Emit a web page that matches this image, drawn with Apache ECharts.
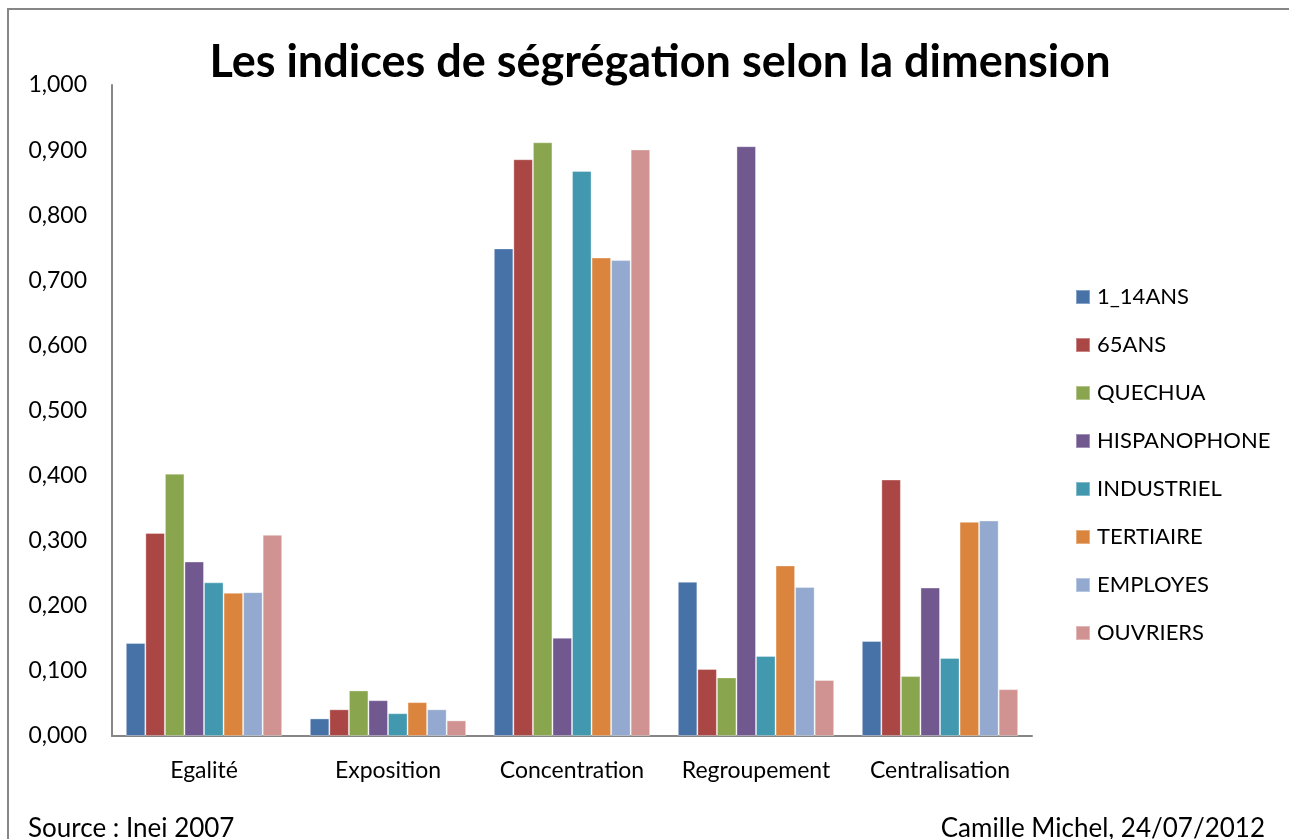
<!DOCTYPE html>
<html>
<head>
<meta charset="utf-8">
<script src="https://cdn.jsdelivr.net/npm/echarts@6/dist/echarts.min.js"></script>
<style>
  html, body { margin: 0; padding: 0; background: #fff; }
  #chart { width: 1289px; height: 839px; }
</style>
</head>
<body>
<div id="chart"></div>
<script>
// Dimensions of segregation along the x axis
const categories = ['Egalité', 'Exposition', 'Concentration', 'Regroupement', 'Centralisation'];

// One array per population group, one value per dimension
const s_1_14ANS     = [0.143, 0.027, 0.749, 0.237, 0.146];
const s_65ANS       = [0.312, 0.041, 0.886, 0.103, 0.394];
const s_QUECHUA     = [0.403, 0.070, 0.912, 0.090, 0.092];
const s_HISPANO     = [0.268, 0.055, 0.151, 0.906, 0.228];
const s_INDUSTRIEL  = [0.236, 0.035, 0.868, 0.123, 0.120];
const s_TERTIAIRE   = [0.220, 0.052, 0.735, 0.262, 0.329];
const s_EMPLOYES    = [0.221, 0.041, 0.731, 0.229, 0.331];
const s_OUVRIERS    = [0.309, 0.024, 0.901, 0.086, 0.072];

const seriesNames = ['1_14ANS', '65ANS', 'QUECHUA', 'HISPANOPHONE', 'INDUSTRIEL', 'TERTIAIRE', 'EMPLOYES', 'OUVRIERS'];
const seriesValues = [s_1_14ANS, s_65ANS, s_QUECHUA, s_HISPANO, s_INDUSTRIEL, s_TERTIAIRE, s_EMPLOYES, s_OUVRIERS];
const seriesColors = ['#4672A8', '#AA4644', '#89A54E', '#71588F', '#4198AF', '#DB843D', '#93A9CF', '#D19392'];

const FONT = 'Lato, "Open Sans", sans-serif';

const chart = echarts.init(document.getElementById('chart'), null, { renderer: 'canvas' });

chart.setOption({
  animation: false,
  backgroundColor: '#ffffff',
  title: {
    text: 'Les indices de ségrégation selon la dimension',
    left: 655,
    textAlign: 'center',
    top: 35,
    textStyle: { fontFamily: FONT, fontWeight: 'bold', fontSize: 45, color: '#000' }
  },
  legend: {
    orient: 'vertical',
    left: 1075,
    top: 286,
    padding: 0,
    itemWidth: 14,
    itemHeight: 14,
    itemGap: 26,
    icon: 'rect',
    textStyle: { fontFamily: FONT, fontSize: 22, color: '#000', lineHeight: 22, padding: [0, 0, 0, 2] },
    data: seriesNames
  },
  grid: { left: 112, right: 257, top: 85, bottom: 103, containLabel: false },
  xAxis: {
    type: 'category',
    data: categories,
    axisLine: { lineStyle: { color: '#868686', width: 2 } },
    axisTick: { show: false },
    axisLabel: { fontFamily: FONT, fontSize: 23, color: '#000', margin: 23, interval: 0 }
  },
  yAxis: {
    type: 'value',
    min: 0,
    max: 1,
    interval: 0.1,
    axisLine: { show: true, lineStyle: { color: '#868686', width: 2 } },
    axisTick: { show: false },
    splitLine: { show: false },
    axisLabel: {
      fontFamily: FONT, fontSize: 23, color: '#000', margin: 25,
      formatter: v => v.toFixed(3).replace('.', ',')
    }
  },
  graphic: [
    {
      type: 'rect',
      shape: { x: 8, y: 9, width: 1300, height: 900 },
      style: { fill: 'none', stroke: '#868686', lineWidth: 2 },
      silent: true
    },
    {
      type: 'text', left: 28, top: 816,
      style: { text: 'Source : Inei 2007', fontFamily: FONT, fontSize: 26, fill: '#000' }
    },
    {
      type: 'text', right: 24, top: 816,
      style: { text: 'Camille Michel, 24/07/2012', fontFamily: FONT, fontSize: 26, fill: '#000' }
    }
  ],
  series: seriesNames.map((name, i) => ({
    name,
    type: 'bar',
    data: seriesValues[i],
    barGap: '0%',
    barCategoryGap: '15%',
    itemStyle: { color: seriesColors[i], borderColor: 'rgba(255,255,255,0.35)', borderWidth: 1 }
  }))
});
</script>
</body>
</html>
